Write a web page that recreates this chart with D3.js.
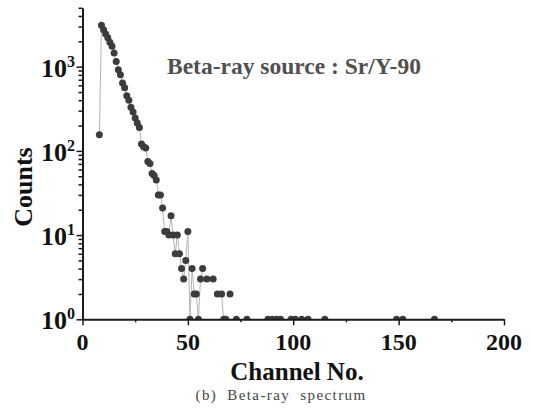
<!DOCTYPE html>
<html>
<head>
<meta charset="utf-8">
<script src="https://cdn.jsdelivr.net/npm/d3@7"></script>
<style>
  body { margin: 0; background: #fff; }
  svg { display: block; }
</style>
</head>
<body>
<div id="chart"></div>
<script>
// channel numbers with non-zero counts
var channels = [8, 9, 10, 11, 12, 13, 14, 15, 16, 17, 18, 19, 20, 21, 22, 23, 24, 25, 26, 27,
    28, 29, 30, 31, 32, 33, 34, 35, 36, 37, 38, 39, 40, 41, 42, 43, 44, 45, 46, 47,
    48, 49, 50, 51, 52, 53, 54, 55, 56, 57, 59, 62, 64, 66, 67, 68, 70, 73, 78, 88,
    90, 92, 94, 99, 101, 104, 107, 115, 149, 152, 167];
var counts = [155, 3100, 2750, 2450, 2200, 1950, 1750, 1450, 1150, 920, 800, 640, 560, 450, 400, 330, 290, 245, 215, 190,
    121, 112, 108, 75, 71, 54, 51, 45, 30, 30, 21, 11, 11, 10, 17, 10, 6, 10, 6, 4,
    3, 5, 11, 1, 4, 2, 2, 1, 3, 4, 3, 3, 2, 2, 1, 1, 2, 1, 1, 1,
    1, 1, 1, 1, 1, 1, 1, 1, 1, 1, 1];

var xTicks = [0, 50, 100, 150, 200];
var xMinor = [25, 75, 125, 175];
var yTicks = [1, 10, 100, 1000];
var yMinor = [2, 3, 4, 5, 6, 7, 8, 9, 20, 30, 40, 50, 60, 70, 80, 90,
    200, 300, 400, 500, 600, 700, 800, 900, 2000, 3000, 4000, 5000];

var titleText = 'Beta-ray source : Sr/Y-90';
var xLabel = 'Channel No.';
var yLabel = 'Counts';
var caption = '(b) Beta-ray spectrum';

var W = 533, H = 408;
var serif = '"Liberation Serif", "Times New Roman", serif';

var svg = d3.select('#chart').append('svg')
    .attr('width', W)
    .attr('height', H);

var x = d3.scaleLinear().domain([0, 200]).range([82.5, 504]);
var y = d3.scaleLog().domain([1, 5000]).range([319.3, 7.8]);

var data = channels.map(function(c, i) {
    return { ch: c, v: counts[i] };
});

// split the line where channels are missing (zero counts)
var segs = [];
data.forEach(function(d, i) {
    if (i === 0 || d.ch - data[i - 1].ch > 1) segs.push([]);
    segs[segs.length - 1].push(d);
});

svg.append('clipPath').attr('id', 'plot')
    .append('rect')
    .attr('x', 82).attr('y', 0)
    .attr('width', 430).attr('height', y(1));

var plot = svg.append('g').attr('clip-path', 'url(#plot)');

var line = d3.line()
    .x(function(d) { return x(d.ch); })
    .y(function(d) { return y(d.v); });

plot.selectAll('.seg')
    .data(segs)
    .enter().append('path')
    .attr('class', 'seg')
    .attr('d', line)
    .attr('fill', 'none')
    .attr('stroke', '#b4b4b4')
    .attr('stroke-width', 1);

plot.selectAll('.pt')
    .data(data)
    .enter().append('circle')
    .attr('class', 'pt')
    .attr('cx', function(d) { return x(d.ch); })
    .attr('cy', function(d) { return y(d.v); })
    .attr('r', 3.5)
    .attr('fill', '#3c3c3c');

// x axis
svg.append('g')
    .attr('transform', 'translate(0,' + y(1) + ')')
    .call(d3.axisBottom(x).tickValues(xTicks).tickSize(6).tickSizeOuter(0).tickFormat(''));
svg.append('g')
    .attr('transform', 'translate(0,' + y(1) + ')')
    .call(d3.axisBottom(x).tickValues(xMinor).tickSize(3).tickSizeOuter(0).tickFormat(''))
    .select('.domain').remove();

// y axis
svg.append('g')
    .attr('transform', 'translate(' + x(0) + ',0)')
    .call(d3.axisLeft(y).tickValues(yTicks).tickSize(6).tickSizeOuter(0).tickFormat(''));
svg.append('g')
    .attr('transform', 'translate(' + x(0) + ',0)')
    .call(d3.axisLeft(y).tickValues(yMinor).tickSize(4).tickSizeOuter(0).tickFormat(''))
    .select('.domain').remove();

svg.selectAll('.domain').attr('stroke', '#1a1a1a').attr('stroke-width', 2);
svg.selectAll('.tick line').attr('stroke', '#1a1a1a').attr('stroke-width', 1.5);

// x tick labels
svg.selectAll('.xlab')
    .data(xTicks)
    .enter().append('text')
    .attr('class', 'xlab')
    .attr('x', function(d) { return x(d); })
    .attr('y', 350)
    .attr('text-anchor', 'middle')
    .style('font-family', serif)
    .style('font-weight', 'bold')
    .style('font-size', '24px')
    .attr('fill', '#111')
    .text(function(d) { return d; });

// y tick labels 10^n
var yl = svg.selectAll('.ylab')
    .data(yTicks)
    .enter().append('text')
    .attr('class', 'ylab')
    .attr('x', 41)
    .attr('y', function(d) { return y(d) + 10; })
    .style('font-family', serif)
    .style('font-weight', 'bold')
    .attr('fill', '#111');
yl.append('tspan').style('font-size', '26px').text('10');
yl.append('tspan')
    .style('font-size', '16px')
    .attr('dy', -10)
    .text(function(d) { return Math.round(Math.log10(d)); });

// axis titles
svg.append('text')
    .attr('x', 297)
    .attr('y', 380)
    .attr('text-anchor', 'middle')
    .style('font-family', serif)
    .style('font-weight', 'bold')
    .style('font-size', '25px')
    .attr('fill', '#111')
    .text(xLabel);

svg.append('text')
    .attr('transform', 'translate(32,187) rotate(-90)')
    .attr('text-anchor', 'middle')
    .style('font-family', serif)
    .style('font-weight', 'bold')
    .style('font-size', '26px')
    .attr('fill', '#111')
    .text(yLabel);

// annotation
svg.append('text')
    .attr('x', 167)
    .attr('y', 74)
    .style('font-family', serif)
    .style('font-weight', 'bold')
    .style('font-size', '23.5px')
    .attr('fill', '#505050')
    .text(titleText);

// caption
svg.append('text')
    .attr('x', 281)
    .attr('y', 400)
    .attr('text-anchor', 'middle')
    .style('font-family', serif)
    .style('font-size', '15px')
    .style('letter-spacing', '1.4px')
    .style('word-spacing', '5px')
    .attr('fill', '#444')
    .text(caption);
</script>
</body>
</html>
